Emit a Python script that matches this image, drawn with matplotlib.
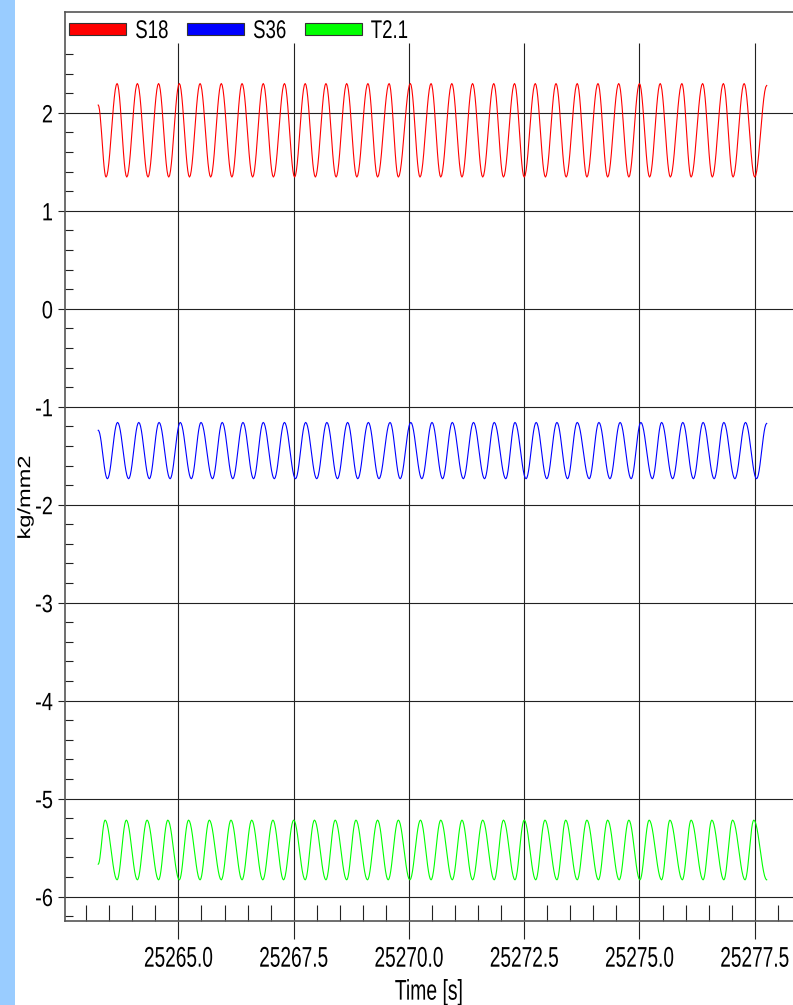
import numpy as np
import matplotlib
matplotlib.use("Agg")
import matplotlib.pyplot as plt
from matplotlib.patches import Patch, Rectangle
from matplotlib.patheffects import AbstractPathEffect
from matplotlib.transforms import Affine2D
from matplotlib.ticker import FixedLocator, MultipleLocator

plt.rcParams['font.family'] = ['Liberation Sans', 'DejaVu Sans']
plt.rcParams['axes.unicode_minus'] = False

# --- данные (экстремумы сигналов) ---
series_names = ["S18", "S36", "T2.1"]
series_colors = ["#FF0000", "#0000FF", "#00FF00"]

# S18
s18_start = (25263.26, 2.08)
s18_peak_t = [25263.67, 25264.11, 25264.57, 25265.02, 25265.47, 25265.93, 25266.38, 25266.84,
              25267.30, 25267.75, 25268.20, 25268.65, 25269.11, 25269.57, 25270.03, 25270.48,
              25270.93, 25271.38, 25271.84, 25272.29, 25272.74, 25273.19, 25273.65, 25274.10,
              25274.55, 25275.00, 25275.45, 25275.92, 25276.37, 25276.82, 25277.27]
s18_trough_t = [25263.43, 25263.88, 25264.34, 25264.79, 25265.24, 25265.70, 25266.16, 25266.61,
                25267.06, 25267.52, 25267.97, 25268.42, 25268.87, 25269.32, 25269.77, 25270.24,
                25270.69, 25271.15, 25271.60, 25272.05, 25272.50, 25272.96, 25273.41, 25273.86,
                25274.31, 25274.77, 25275.22, 25275.67, 25276.12, 25276.58, 25277.03, 25277.50]
s18_peak_v, s18_trough_v = 2.30, 1.345
s18_end = (25277.76, 2.28)

# S36
s36_start = (25263.26, -1.24)
s36_peak_t = [25263.68, 25264.14, 25264.58, 25265.04, 25265.49, 25265.95, 25266.40, 25266.84,
              25267.30, 25267.76, 25268.22, 25268.67, 25269.12, 25269.59, 25270.04, 25270.50,
              25270.94, 25271.40, 25271.85, 25272.30, 25272.76, 25273.21, 25273.65, 25274.12,
              25274.58, 25275.03, 25275.48, 25275.94, 25276.38, 25276.83, 25277.30]
s36_trough_t = [25263.46, 25263.92, 25264.37, 25264.82, 25265.28, 25265.74, 25266.18, 25266.63,
                25267.08, 25267.54, 25268.00, 25268.45, 25268.89, 25269.35, 25269.81, 25270.28,
                25270.73, 25271.18, 25271.64, 25272.10, 25272.54, 25272.99, 25273.44, 25273.91,
                25274.36, 25274.82, 25275.28, 25275.72, 25276.17, 25276.62, 25277.07, 25277.54]
s36_peak_v, s36_trough_v = -1.16, -1.735
s36_end = (25277.76, -1.17)

# T2.1
t21_start = (25263.26, -5.67)
t21_peak_t = [25263.41, 25263.87, 25264.32, 25264.77, 25265.22, 25265.67, 25266.14, 25266.59,
              25267.05, 25267.50, 25267.95, 25268.40, 25268.85, 25269.32, 25269.77, 25270.25,
              25270.69, 25271.15, 25271.60, 25272.05, 25272.50, 25272.95, 25273.40, 25273.86,
              25274.31, 25274.77, 25275.21, 25275.66, 25276.12, 25276.57, 25277.02, 25277.48]
t21_trough_t = [25263.67, 25264.11, 25264.57, 25265.02, 25265.47, 25265.93, 25266.38, 25266.83,
                25267.28, 25267.75, 25268.20, 25268.65, 25269.10, 25269.55, 25270.02, 25270.48,
                25270.94, 25271.38, 25271.85, 25272.30, 25272.75, 25273.21, 25273.65, 25274.11,
                25274.56, 25275.01, 25275.48, 25275.93, 25276.38, 25276.83, 25277.29]
t21_peak_v, t21_trough_v = -5.22, -5.83
t21_end = (25277.76, -5.83)

xticks = [25265.0, 25267.5, 25270.0, 25272.5, 25275.0, 25277.5]
xticklabels = ["25265.0", "25267.5", "25270.0", "25272.5", "25275.0", "25277.5"]
yticks = [2, 1, 0, -1, -2, -3, -4, -5, -6]


class Squeeze(AbstractPathEffect):
    """сжимает текст по горизонтали (узкий шрифт, как в оригинале)"""
    def __init__(self, sx=0.83, anchor="center"):
        super().__init__()
        self.sx, self.anchor = sx, anchor

    def draw_path(self, renderer, gc, tpath, affine, rgbFace=None):
        ext = tpath.get_extents(affine)
        if self.anchor == "left":
            x0 = ext.x0
        elif self.anchor == "right":
            x0 = ext.x1
        else:
            x0 = (ext.x0 + ext.x1) / 2
        sq = Affine2D().translate(-x0, 0).scale(self.sx, 1).translate(x0, 0)
        renderer.draw_path(gc, tpath, affine + sq, rgbFace)


def knots(start, peak_t, trough_t, peak_v, trough_v, end):
    pts = [start] + [(t, peak_v) for t in peak_t] + [(t, trough_v) for t in trough_t] + [end]
    pts.sort()
    return np.array(pts)


def smooth(pts, n=12):
    # плавная кривая между соседними экстремумами (полукосинус)
    xs, ys = [pts[0, 0]], [pts[0, 1]]
    u = np.linspace(0, 1, n + 1)[1:]
    for (t0, v0), (t1, v1) in zip(pts[:-1], pts[1:]):
        xs.extend(t0 + u * (t1 - t0))
        ys.extend(v0 + (v1 - v0) * (1 - np.cos(np.pi * u)) / 2)
    return np.array(xs), np.array(ys)


fig = plt.figure(figsize=(7.93, 10.05), dpi=100)
fig.patches.append(Rectangle((0, 0), 15 / 793, 1, transform=fig.transFigure,
                             facecolor="#99CCFF", edgecolor="none", zorder=0))
ax = fig.add_axes([65 / 793, 84 / 1005, 728 / 793, 909 / 1005])

all_knots = [
    knots(s18_start, s18_peak_t, s18_trough_t, s18_peak_v, s18_trough_v, s18_end),
    knots(s36_start, s36_peak_t, s36_trough_t, s36_peak_v, s36_trough_v, s36_end),
    knots(t21_start, t21_peak_t, t21_trough_t, t21_peak_v, t21_trough_v, t21_end),
]
for pts, col in zip(all_knots, series_colors):
    x, y = smooth(pts)
    ax.plot(x, y, color=col, lw=0.8, zorder=3)

ax.set_xlim(25262.54, 25278.33)
ax.set_ylim(-6.25, 3.03)

grid_col = "#222222"
ax.set_yticks(yticks)
ax.yaxis.set_minor_locator(FixedLocator([v / 10 for v in range(-62, 27, 2) if v % 10 != 0]))
ax.grid(axis="y", which="major", color=grid_col, lw=0.8)
ax.vlines(xticks, -6.25, 2.71, color=grid_col, lw=0.8, zorder=1)
ax.set_xticks(xticks)
ax.set_xticklabels(xticklabels)
ax.xaxis.set_minor_locator(MultipleLocator(0.5))

ax.tick_params(axis="y", which="major", direction="out", length=5, width=0.8,
               color=grid_col, pad=3.5, labelsize=18)
ax.tick_params(axis="y", which="minor", direction="in", length=5.8, width=0.8, color=grid_col)
ax.tick_params(axis="x", which="major", direction="out", length=13, width=0.8,
               color=grid_col, pad=5.5, labelsize=20.5)
ax.tick_params(axis="x", which="minor", direction="in", length=11.5, width=0.8, color=grid_col)

for s in ["left", "top", "bottom"]:
    ax.spines[s].set_color("#555555")
    ax.spines[s].set_linewidth(1.2)
ax.spines["right"].set_visible(False)

ax.set_xlabel("Time [s]", fontsize=20.5, labelpad=5)
ax.set_ylabel("kg/mm2", fontsize=17)
ax.yaxis.set_label_coords(-0.039, 0.466)

for lbl in ax.get_xticklabels():
    lbl.set_path_effects([Squeeze(0.67, "center")])
for lbl in ax.get_yticklabels():
    lbl.set_path_effects([Squeeze(0.8, "right")])
ax.xaxis.label.set_path_effects([Squeeze(0.68, "center")])
ax.yaxis.label.set_path_effects([Squeeze(0.75, "center")])

handles = [Patch(facecolor=c, edgecolor="#333333", lw=0.8) for c in series_colors]
leg = ax.legend(handles, series_names, loc="upper left", bbox_to_anchor=(69 / 793, 1 - 19 / 1005),
                bbox_transform=fig.transFigure, ncol=3, frameon=False, fontsize=18.4,
                handlelength=2.23, handleheight=0.35, handletextpad=0.35, columnspacing=0.25,
                borderpad=0, borderaxespad=0)
for t in leg.get_texts():
    t.set_path_effects([Squeeze(0.73, "left")])

fig.savefig("out.png", dpi=100)
